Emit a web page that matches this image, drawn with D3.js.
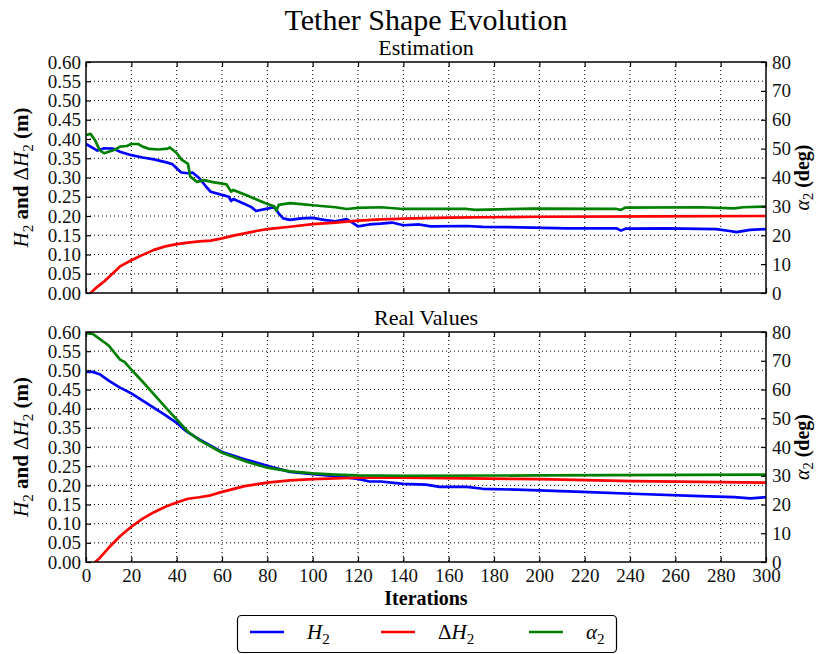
<!DOCTYPE html>
<html>
<head>
<meta charset="utf-8">
<script src="https://cdn.jsdelivr.net/npm/d3@7"></script>
<style>
  body { margin: 0; background: #fff; }
  svg, svg text { font-family: "Liberation Serif", "DejaVu Serif", serif; }
</style>
</head>
<body>
<div id="chart"></div>
<script>
// values: [iteration, value]
// H2 and dH2 in metres, alpha2 in degrees
const estH2 = [[0,0.387],[2,0.38],[5,0.37],[8,0.376],[12,0.375],[15,0.367],[20,0.358],[25,0.352],[30,0.347],[35,0.34],[38,0.335],[40,0.324],[42,0.313],[45,0.311],[47,0.313],[50,0.298],[53,0.276],[55,0.263],[60,0.255],[63,0.25],[64,0.239],[65,0.244],[70,0.231],[73,0.223],[75,0.213],[80,0.219],[83,0.223],[85,0.207],[87,0.194],[90,0.19],[95,0.194],[100,0.195],[105,0.19],[110,0.186],[115,0.192],[118,0.181],[120,0.173],[125,0.178],[130,0.18],[135,0.183],[140,0.176],[147,0.178],[152,0.173],[168,0.174],[175,0.172],[197,0.17],[212,0.168],[234,0.168],[236,0.162],[238,0.167],[256,0.168],[278,0.166],[284,0.161],[287,0.158],[293,0.164],[300,0.166]];
const estDH2 = [[2,0],[5,0.016],[8,0.03],[10,0.041],[15,0.069],[20,0.085],[25,0.099],[30,0.112],[35,0.121],[40,0.127],[45,0.131],[50,0.134],[55,0.136],[60,0.142],[65,0.149],[70,0.155],[75,0.161],[80,0.166],[90,0.172],[100,0.179],[110,0.183],[120,0.188],[130,0.191],[140,0.193],[160,0.196],[200,0.198],[250,0.199],[300,0.2]];
const estAlpha = [[0,54.7],[2,55.1],[4,52.9],[6,49.5],[8,48.4],[10,48.9],[13,49.7],[15,50.7],[18,50.9],[20,51.6],[23,51.6],[25,50.7],[28,49.9],[32,49.7],[36,50.0],[37,50.4],[40,48.5],[42,46.3],[45,44.7],[46,40.3],[49,38.5],[52,39.1],[56,38.4],[62,37.6],[64,35.1],[65,35.7],[70,34.1],[75,32.5],[80,30.8],[83,30.0],[84,28.5],[85,30.5],[90,31.1],[95,30.8],[100,30.4],[110,29.7],[115,29.1],[120,29.5],[130,29.7],[140,29.1],[168,29.1],[172,28.8],[197,29.2],[234,29.1],[236,28.8],[238,29.6],[271,29.7],[286,29.3],[290,29.7],[300,29.9]];

const realH2 = [[0,0.496],[3,0.496],[6,0.49],[10,0.473],[15,0.455],[20,0.44],[25,0.421],[30,0.402],[35,0.383],[40,0.363],[43,0.347],[45,0.338],[50,0.32],[60,0.287],[70,0.268],[80,0.251],[90,0.235],[100,0.229],[110,0.224],[120,0.217],[125,0.21],[130,0.21],[140,0.204],[150,0.202],[156,0.196],[168,0.196],[175,0.191],[200,0.187],[219,0.183],[241,0.178],[271,0.172],[286,0.169],[293,0.166],[300,0.169]];
const realDH2 = [[4,0],[6,0.01],[10,0.037],[15,0.067],[20,0.092],[25,0.113],[30,0.13],[35,0.144],[40,0.155],[45,0.165],[50,0.169],[55,0.174],[60,0.183],[70,0.198],[80,0.207],[90,0.213],[100,0.216],[110,0.218],[120,0.22],[140,0.22],[200,0.216],[241,0.211],[300,0.207]];
const realAlpha = [[0,79.6],[3,79.3],[6,77.6],[10,75.3],[15,70.4],[17,69.6],[20,66.9],[25,62.7],[30,58.3],[35,53.9],[40,49.6],[45,45.3],[50,42.4],[60,38.0],[70,35.1],[80,32.8],[90,31.5],[100,30.8],[110,30.4],[120,30.1],[140,30.0],[200,30.1],[300,30.4]];

const xTicks = d3.range(0, 301, 20);
const yTicks = d3.range(0, 0.6001, 0.05);
const y2Ticks = d3.range(0, 81, 10);

const width = 816, height = 654;
const left = 86, right = 766;
const serif = '"Liberation Serif", "DejaVu Serif", serif';

const svg = d3.select('#chart').append('svg')
    .attr('width', width)
    .attr('height', height);

const x = d3.scaleLinear().domain([0, 300]).range([left, right]);

// text with subscripts: parts = [[text, flags]], i = italic, s = subscript, n = normal weight
function richText(sel, parts) {
    let sub = false;
    parts.forEach(p => {
        const t = sel.append('tspan').text(p[0]);
        if (p[1].includes('i')) t.attr('font-style', 'italic');
        if (p[1].includes('n')) t.attr('font-weight', 'normal');
        if (p[1].includes('s')) {
            t.attr('font-size', '0.72em').attr('dy', '0.3em');
            sub = true;
        } else if (sub) {
            t.attr('dy', '-0.216em');
            sub = false;
        }
    });
}

function panel(top, bottom, title, series, showX) {
    const y = d3.scaleLinear().domain([0, 0.6]).range([bottom, top]);
    const y2 = d3.scaleLinear().domain([0, 80]).range([bottom, top]);
    const g = svg.append('g');

    // grid
    g.append('g').selectAll('line')
        .data(xTicks.slice(1, -1))
        .join('line')
        .attr('x1', d => x(d)).attr('x2', d => x(d))
        .attr('y1', top).attr('y2', bottom)
        .attr('stroke', '#000').attr('stroke-width', 1)
        .attr('stroke-dasharray', '1,3');
    g.append('g').selectAll('line')
        .data(yTicks.slice(1, -1))
        .join('line')
        .attr('x1', left).attr('x2', right)
        .attr('y1', d => y(d)).attr('y2', d => y(d))
        .attr('stroke', '#000').attr('stroke-width', 1)
        .attr('stroke-dasharray', '1,3');

    const clipId = 'clip' + top;
    svg.append('clipPath').attr('id', clipId)
        .append('rect')
        .attr('x', left).attr('y', top)
        .attr('width', right - left).attr('height', bottom - top);

    const lines = g.append('g').attr('clip-path', `url(#${clipId})`);
    series.forEach(s => {
        const sc = s.axis === 'right' ? y2 : y;
        lines.append('path')
            .datum(s.data)
            .attr('fill', 'none')
            .attr('stroke', s.color)
            .attr('stroke-width', 2.7)
            .attr('stroke-linejoin', 'round')
            .attr('d', d3.line().x(d => x(d[0])).y(d => sc(d[1])));
    });

    // axes, ticks pointing inward
    const ax = g.append('g').attr('transform', `translate(${left},0)`)
        .call(d3.axisLeft(y).tickValues(yTicks).tickFormat(d3.format('.2f'))
            .tickSizeInner(-5).tickSizeOuter(0).tickPadding(5));
    const ax2 = g.append('g').attr('transform', `translate(${right},0)`)
        .call(d3.axisRight(y2).tickValues(y2Ticks).tickFormat(d3.format('d'))
            .tickSizeInner(-5).tickSizeOuter(0).tickPadding(6));
    const axb = g.append('g').attr('transform', `translate(0,${bottom})`)
        .call(d3.axisBottom(x).tickValues(xTicks)
            .tickFormat(showX ? d3.format('d') : '')
            .tickSizeInner(-5).tickSizeOuter(0).tickPadding(7));
    const axt = g.append('g').attr('transform', `translate(0,${top})`)
        .call(d3.axisTop(x).tickValues(xTicks).tickFormat('')
            .tickSizeInner(-5).tickSizeOuter(0));
    [ax, ax2, axb, axt].forEach(a => {
        a.attr('font-family', null).attr('font-size', null);
        a.select('.domain').remove();
        a.selectAll('.tick line').attr('stroke', '#000').attr('stroke-width', 1.2);
        a.selectAll('text')
            .style('font-family', serif)
            .style('font-size', '19px')
            .attr('fill', '#111');
    });

    g.append('rect')
        .attr('x', left).attr('y', top)
        .attr('width', right - left).attr('height', bottom - top)
        .attr('fill', 'none').attr('stroke', '#000').attr('stroke-width', 1.5);

    g.append('text')
        .attr('x', (left + right) / 2).attr('y', top - 7)
        .attr('text-anchor', 'middle')
        .style('font-size', '22px')
        .text(title);

    const cy = (top + bottom) / 2;
    const yl = g.append('text')
        .attr('transform', `translate(28,${cy}) rotate(-90)`)
        .attr('text-anchor', 'middle')
        .style('font-size', '21px')
        .attr('font-weight', 'bold');
    richText(yl, [['H', 'in'], ['2', 'sn'], [' and ', ''], ['Δ', 'n'], ['H', 'in'], ['2', 'sn'], [' (m)', '']]);

    const yr = g.append('text')
        .attr('transform', `translate(809,${cy}) rotate(-90)`)
        .attr('text-anchor', 'middle')
        .style('font-size', '20px')
        .attr('font-weight', 'bold');
    richText(yr, [['α', 'in'], ['2', 'sn'], [' (deg)', '']]);
}

panel(62, 293, 'Estimation', [
    { data: estH2, color: '#0000ff' },
    { data: estDH2, color: '#ff0000' },
    { data: estAlpha, color: '#008000', axis: 'right' }
], false);

panel(332, 562, 'Real Values', [
    { data: realH2, color: '#0000ff' },
    { data: realDH2, color: '#ff0000' },
    { data: realAlpha, color: '#008000', axis: 'right' }
], true);

svg.append('text')
    .attr('x', 426).attr('y', 30)
    .attr('text-anchor', 'middle')
    .style('font-size', '30px')
    .text('Tether Shape Evolution');

svg.append('text')
    .attr('x', 426).attr('y', 605)
    .attr('text-anchor', 'middle')
    .style('font-size', '20px')
    .attr('font-weight', 'bold')
    .text('Iterations');

// legend
const legendItems = [
    { color: '#0000ff', parts: [['H', 'i'], ['2', 's']], x: 250 },
    { color: '#ff0000', parts: [['Δ', ''], ['H', 'i'], ['2', 's']], x: 381 },
    { color: '#008000', parts: [['α', 'i'], ['2', 's']], x: 529 }
];
const lg = svg.append('g');
lg.append('rect')
    .attr('x', 237.5).attr('y', 615.5)
    .attr('width', 379).attr('height', 37)
    .attr('rx', 4)
    .attr('fill', '#fff').attr('stroke', '#000').attr('stroke-width', 1.2);
legendItems.forEach(it => {
    lg.append('line')
        .attr('x1', it.x).attr('x2', it.x + 34)
        .attr('y1', 632).attr('y2', 632)
        .attr('stroke', it.color).attr('stroke-width', 2.7);
    const t = lg.append('text')
        .attr('x', it.x + 57).attr('y', 639)
        .style('font-size', '21px');
    richText(t, it.parts);
});
</script>
</body>
</html>
